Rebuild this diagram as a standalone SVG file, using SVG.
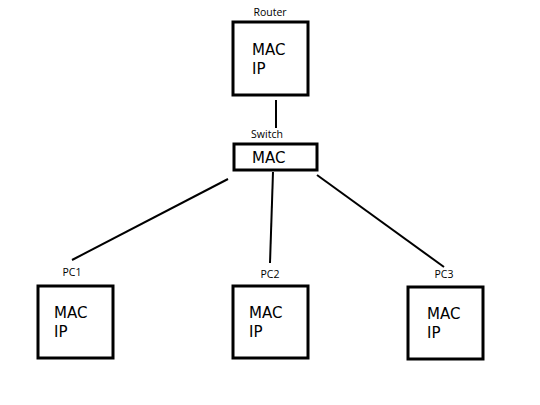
<svg xmlns="http://www.w3.org/2000/svg" width="540" height="405" viewBox="0 0 540 405">
<style>
.box{fill:#fff;stroke:#000;stroke-width:3}
.lbl{font-family:"Open Sans","DejaVu Sans",sans-serif;font-size:10.5px;fill:#000;text-anchor:middle}
.t{font-family:"DejaVu Sans",sans-serif;font-size:15px;fill:#000}
.ln{stroke:#000;stroke-width:2;fill:none}
</style>
<rect width="540" height="405" fill="#fff"/>
<g id="connectors">
<line class="ln" x1="276" y1="100" x2="276" y2="128"/>
<line class="ln" x1="228" y1="179" x2="72" y2="260"/>
<line class="ln" x1="273" y1="172" x2="270" y2="263"/>
<line class="ln" x1="317" y1="175" x2="444" y2="267"/>
</g>
<g id="router">
<text class="lbl" x="270" y="16">Router</text>
<rect class="box" x="233" y="22" width="75" height="73"/>
<text class="t" x="252" y="55">MAC</text>
<text class="t" x="252" y="73.5">IP</text>
</g>
<g id="switch">
<text class="lbl" x="267" y="138">Switch</text>
<rect class="box" x="234" y="144" width="83" height="26"/>
<text class="t" x="252" y="163">MAC</text>
</g>
<g id="pc1">
<text class="lbl" x="72" y="276">PC1</text>
<rect class="box" x="38" y="286" width="75" height="72"/>
<text class="t" x="54" y="318">MAC</text>
<text class="t" x="54" y="336.5">IP</text>
</g>
<g id="pc2">
<text class="lbl" x="270" y="278">PC2</text>
<rect class="box" x="233" y="286" width="75" height="72"/>
<text class="t" x="249" y="318">MAC</text>
<text class="t" x="249" y="336.5">IP</text>
</g>
<g id="pc3">
<text class="lbl" x="444" y="278">PC3</text>
<rect class="box" x="408" y="287" width="75" height="72"/>
<text class="t" x="427" y="319">MAC</text>
<text class="t" x="427" y="337.5">IP</text>
</g>
</svg>
